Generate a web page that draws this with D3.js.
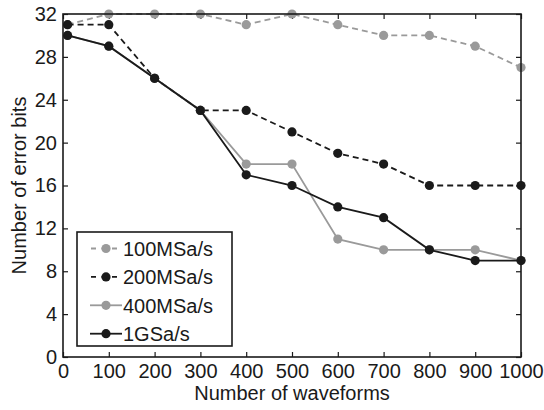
<!DOCTYPE html>
<html>
<head>
<meta charset="utf-8">
<script src="https://cdn.jsdelivr.net/npm/d3@7"></script>
<style>
  body { margin: 0; background: #fff; }
  text { font-family: "Liberation Sans", Arial, sans-serif; fill: #1a1a1a; }
</style>
</head>
<body>
<svg class="chart" width="544" height="410"></svg>
<script>
var waveforms = [10, 100, 200, 300, 400, 500, 600, 700, 800, 900, 1000];
var s100M = [31, 32, 32, 32, 31, 32, 31, 30, 30, 29, 27];
var s200M = [31, 31, 26, 23, 23, 21, 19, 18, 16, 16, 16];
var s400M = [30, 29, 26, 23, 18, 18, 11, 10, 10, 10, 9];
var s1G   = [30, 29, 26, 23, 17, 16, 14, 13, 10, 9, 9];
var xTicks = [0, 100, 200, 300, 400, 500, 600, 700, 800, 900, 1000];
var yTicks = [0, 4, 8, 12, 16, 20, 24, 28, 32];

var series = [
  { name: "100MSa/s", values: s100M, color: "#9a9a9a", dash: "6,4" },
  { name: "200MSa/s", values: s200M, color: "#1a1a1a", dash: "6,4" },
  { name: "400MSa/s", values: s400M, color: "#9a9a9a", dash: null },
  { name: "1GSa/s",   values: s1G,   color: "#1a1a1a", dash: null }
];

var svg = d3.select(".chart"),
    mLeft = 63, mRight = 521, mTop = 14, mBottom = 357,
    fontSize = "20px";

var x = d3.scaleLinear().domain([0, 1000]).range([mLeft, mRight]);
var y = d3.scaleLinear().domain([0, 32]).range([mBottom, mTop]);

var g = svg.append("g");

// ticks point inward on all four sides
g.append("g").attr("transform", "translate(0," + mBottom + ")")
  .call(d3.axisBottom(x).tickValues(xTicks).tickSizeInner(-5).tickSizeOuter(0).tickPadding(7).tickFormat(d3.format("d")))
  .call(function(a) { a.select(".domain").remove(); });
g.append("g").attr("transform", "translate(0," + mTop + ")")
  .call(d3.axisTop(x).tickValues(xTicks).tickSizeInner(-5).tickSizeOuter(0).tickFormat(""))
  .call(function(a) { a.select(".domain").remove(); });
g.append("g").attr("transform", "translate(" + mLeft + ",0)")
  .call(d3.axisLeft(y).tickValues(yTicks).tickSizeInner(-5).tickSizeOuter(0).tickPadding(6))
  .call(function(a) { a.select(".domain").remove(); });
g.append("g").attr("transform", "translate(" + mRight + ",0)")
  .call(d3.axisRight(y).tickValues(yTicks).tickSizeInner(-5).tickSizeOuter(0).tickFormat(""))
  .call(function(a) { a.select(".domain").remove(); });

g.selectAll(".tick line").attr("stroke", "#1a1a1a").attr("stroke-width", 1.2);
g.selectAll(".tick text").style("font-size", fontSize).style("font-family", "Liberation Sans, Arial, sans-serif").attr("fill", "#1a1a1a");

var line = d3.line()
  .x(function(d, i) { return x(waveforms[i]); })
  .y(function(d) { return y(d); });

series.forEach(function(s) {
  var sg = svg.append("g");
  sg.append("path")
    .attr("d", line(s.values))
    .attr("fill", "none")
    .attr("stroke", s.color)
    .attr("stroke-width", 1.8)
    .attr("stroke-dasharray", s.dash);
  sg.selectAll("circle")
    .data(s.values)
    .enter().append("circle")
      .attr("cx", function(d, i) { return x(waveforms[i]); })
      .attr("cy", function(d) { return y(d); })
      .attr("r", 4.6)
      .attr("fill", s.color);
});

// frame
svg.append("rect")
  .attr("x", mLeft).attr("y", mTop)
  .attr("width", mRight - mLeft).attr("height", mBottom - mTop)
  .attr("fill", "none").attr("stroke", "#1a1a1a").attr("stroke-width", 1.6);

// legend
var legend = svg.append("g");
legend.append("rect")
  .attr("x", 77).attr("y", 232).attr("width", 155).attr("height", 114)
  .attr("fill", "#fff").attr("stroke", "#1a1a1a").attr("stroke-width", 1.6);

var item = legend.selectAll(".item")
  .data(series)
  .enter().append("g")
    .attr("class", "item")
    .attr("transform", function(d, i) { return "translate(0," + (248.5 + i * 28.4) + ")"; });

item.append("line")
  .attr("x1", 90).attr("x2", 122).attr("y1", 0).attr("y2", 0)
  .attr("stroke", function(d) { return d.color; })
  .attr("stroke-width", 1.8)
  .attr("stroke-dasharray", function(d) { return d.dash ? "5,5.5" : null; })
  .attr("stroke-dashoffset", function(d) { return d.dash ? -1 : null; });
item.append("circle")
  .attr("cx", 106).attr("cy", 0).attr("r", 4.6)
  .attr("fill", function(d) { return d.color; });
item.append("text")
  .attr("x", 123).attr("y", 0).attr("dy", "0.36em")
  .style("font-size", fontSize)
  .text(function(d) { return d.name; });

// axis titles
svg.append("text")
  .attr("x", (mLeft + mRight) / 2).attr("y", 400)
  .attr("text-anchor", "middle")
  .style("font-size", fontSize)
  .text("Number of waveforms");
svg.append("text")
  .attr("transform", "translate(26," + ((mTop + mBottom) / 2) + ") rotate(-90)")
  .attr("text-anchor", "middle")
  .style("font-size", fontSize)
  .text("Number of error bits");
</script>
</body>
</html>
